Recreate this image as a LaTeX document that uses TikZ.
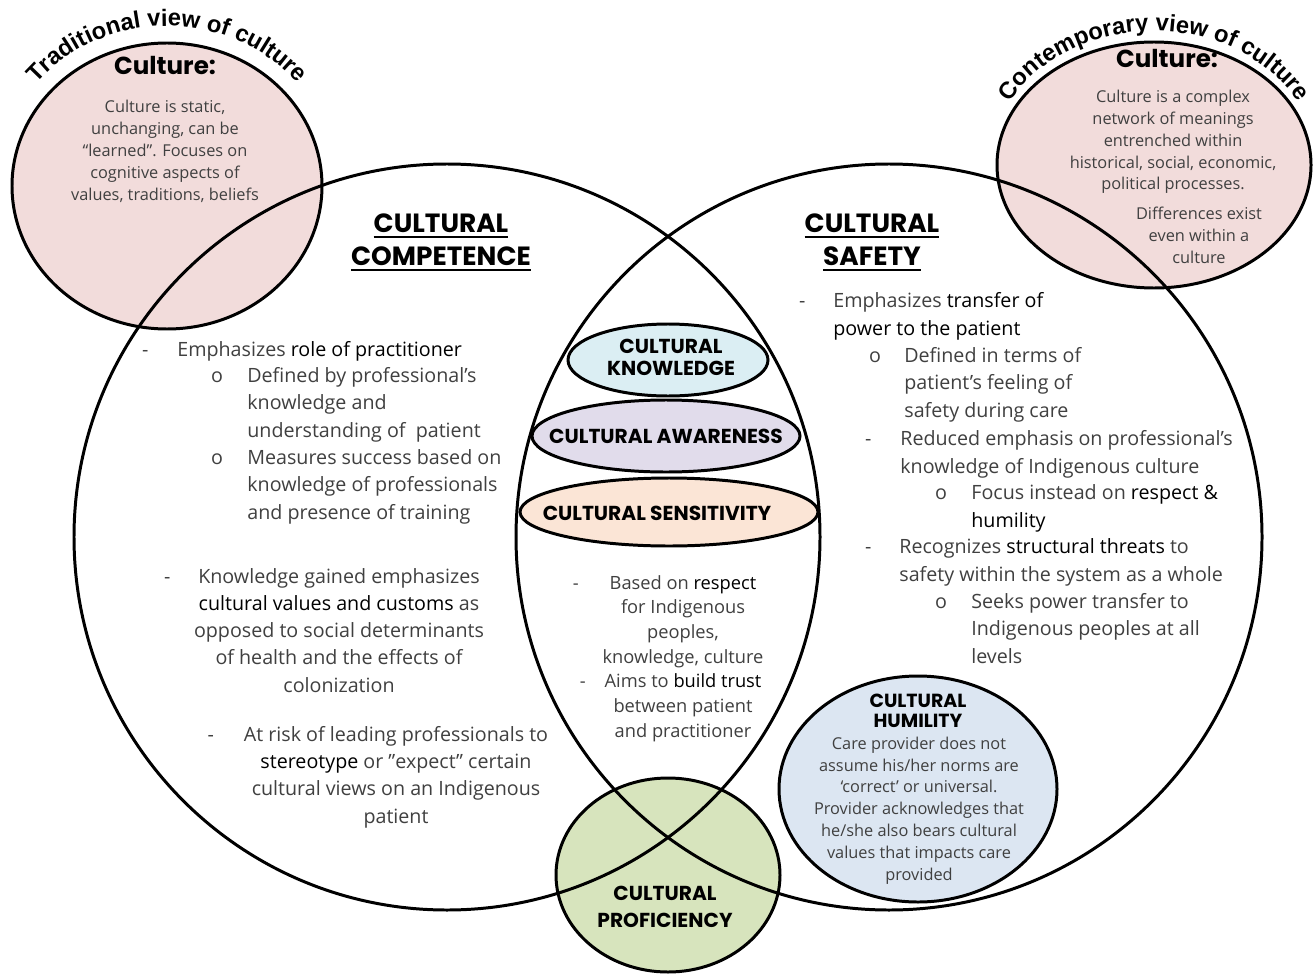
\documentclass[tikz,border=0pt]{standalone}
\usepackage{fontspec}
\setmainfont{Open Sans}
\newfontfamily\headfont{Poppins}
\newfontfamily\arcfont{Liberation Sans}
\usetikzlibrary{decorations.text}

\definecolor{pinkfill}{HTML}{F2DCDB}
\definecolor{knowfill}{HTML}{DBEEF3}
\definecolor{awarefill}{HTML}{E1DCEB}
\definecolor{sensefill}{HTML}{FBE5D6}
\definecolor{proffill}{HTML}{D7E4BD}
\definecolor{humfill}{HTML}{DCE6F2}
\definecolor{bodygray}{HTML}{404040}

% emphasised words and list markers
\newcommand{\hl}[1]{\textcolor{black}{#1}}
\newcommand{\bdash}[1]{\llap{-\hspace{#1}}}
\newcommand{\bring}[1]{\llap{o\hspace{#1}}}
\newsavebox\headbox
\newcommand{\ulhead}[1]{\sbox\headbox{#1}\rlap{\rule[-3.6pt]{\wd\headbox}{1.2pt}}\usebox\headbox}

\begin{document}
\begin{tikzpicture}[x=0.02cm, y=-0.02cm,
    ring/.style={draw=black, line width=1.7pt},
    title/.style={font=\headfont\bfseries\fontsize{15}{18.7}\selectfont, inner sep=0pt, align=center, anchor=base},
    tag/.style={font=\headfont\bfseries\fontsize{11.5}{12.5}\selectfont, inner sep=0pt, align=center, anchor=base},
    body/.style={font=\fontsize{11.2}{15.4}\selectfont, text=bodygray, inner sep=0pt, align=left, anchor=base west},
    bodyc/.style={body, align=center, anchor=base},
    mid/.style={font=\fontsize{10.4}{14}\selectfont, text=bodygray, inner sep=0pt, align=center, anchor=base},
    note/.style={font=\fontsize{9.3}{12.4}\selectfont, text=bodygray, inner sep=0pt, align=center, anchor=base},
    arctext/.style={decorate, decoration={text along path, text align=center, text={|\arcfont\bfseries\fontsize{13.5}{13.5}\selectfont|#1}}}]
  \useasboundingbox (0,0) rectangle (1314,973);
  \fill[white] (0,0) rectangle (1314,973);

  % filled shapes
  \filldraw[ring, fill=pinkfill] (167,186) ellipse [x radius=155, y radius=143];
  \filldraw[ring, fill=pinkfill] (1154,165) ellipse [x radius=157, y radius=123];
  \filldraw[ring, fill=proffill] (668,875) ellipse [x radius=112, y radius=97];
  \filldraw[ring, fill=humfill] (918,789) ellipse [x radius=139, y radius=113];
  \filldraw[ring, fill=knowfill] (668,360) ellipse [x radius=100, y radius=36];
  \filldraw[ring, fill=awarefill] (666,436) ellipse [x radius=134, y radius=36];
  \filldraw[ring, fill=sensefill] (669,512) ellipse [x radius=149, y radius=34];

  % the two big circles
  \draw[ring] (447,537) circle [radius=373];
  \draw[ring] (889,537) circle [radius=373];

  % curved titles
  \path[arctext=Traditional view of culture]
    (167,186) ++(-160:170 and 160) arc [start angle=-160, end angle=-20, x radius=170, y radius=160];
  \path[arctext=Contemporary view of culture]
    (1154,172) ++(-165:166 and 141) arc [start angle=-165, end angle=-15, x radius=166, y radius=141];

  % pink circles (base = last line)
  \node[title, font=\headfont\bfseries\fontsize{14}{16}\selectfont] (tradhead) at (165,75) {Culture:};
  \node[note] (tradtext) at (165,200) {Culture is static,\\unchanging, can be\\“learned”. Focuses on\\cognitive aspects of\\values, traditions, beliefs};
  \node[title, font=\headfont\bfseries\fontsize{14}{16}\selectfont] (conthead) at (1167,68) {Culture:};
  \node[note] (conttext) at (1173,190) {Culture is a complex\\network of meanings\\entrenched within\\historical, social, economic,\\political processes.};
  \node[note] (contdiff) at (1199,263) {Differences exist\\even within a\\culture};

  % headings
  \node[title] (comphead) at (441,265) {\ulhead{CULTURAL}\\\ulhead{COMPETENCE}};
  \node[title] (safehead) at (872,265) {\ulhead{CULTURAL}\\\ulhead{SAFETY}};

  % cultural competence
  \node[body] (comp1) at (177,356) {\bdash{16.4pt}Emphasizes \hl{role of practitioner}};
  \node[body] (comp2) at (247,437) {\bring{13.9pt}Defined by professional’s\\knowledge and\\understanding of\ \ patient};
  \node[body] (comp3) at (247,519) {\bring{13.9pt}Measures success based on\\knowledge of professionals\\and presence of training};
  \node[bodyc] (comp4) at (339,692) {\bdash{15.9pt}Knowledge gained emphasizes\\\hl{cultural values and customs} as\\opposed to social determinants\\of health and the effects of\\colonization};
  \node[bodyc] (comp5) at (396,823) {\bdash{17pt}At risk of leading professionals to\\\hl{stereotype} or ”expect” certain\\cultural views on an Indigenous\\patient};

  % middle
  \node[tag] (know) at (671,375) {CULTURAL\\KNOWLEDGE};
  \node[tag] (aware) at (666,443) {CULTURAL AWARENESS};
  \node[tag] (sense) at (657,520) {CULTURAL SENSITIVITY};
  \node[mid] (mid1) at (683,663) {\bdash{17.6pt}Based on \hl{respect}\\for Indigenous\\peoples,\\knowledge, culture};
  \node[mid] (mid2) at (683,737) {\bdash{10.8pt}Aims to \hl{build trust}\\between patient\\and practitioner};
  \node[tag, font=\headfont\bfseries\fontsize{11.5}{15.3}\selectfont] (prof) at (665,927) {CULTURAL\\PROFICIENCY};

  % cultural safety
  \node[body] (safe1) at (833,335) {\bdash{15.9pt}Emphasizes \hl{transfer of}\\\hl{power to the patient}};
  \node[body] (safe2) at (904,417) {\bring{13.3pt}Defined in terms of\\patient’s feeling of\\safety during care};
  \node[body] (safe3) at (900,473) {\bdash{16.4pt}Reduced emphasis on professional’s\\knowledge of Indigenous culture};
  \node[body] (safe4) at (971,527) {\bring{13.9pt}Focus instead on \hl{respect \&}\\\hl{humility}};
  \node[body] (safe5) at (899,581) {\bdash{15.9pt}Recognizes \hl{structural threats} to\\safety within the system as a whole};
  \node[body] (safe6) at (971,663) {\bring{13.9pt}Seeks power transfer to\\Indigenous peoples at all\\levels};

  % cultural humility
  \node[tag, font=\headfont\bfseries\fontsize{10.8}{11.3}\selectfont] (humhead) at (918,727) {CULTURAL\\HUMILITY};
  \node[note] (humtext) at (919,880) {Care provider does not\\assume his/her norms are\\‘correct’ or universal.\\Provider acknowledges that\\he/she also bears cultural\\values that impacts care\\provided};
\end{tikzpicture}
\end{document}
